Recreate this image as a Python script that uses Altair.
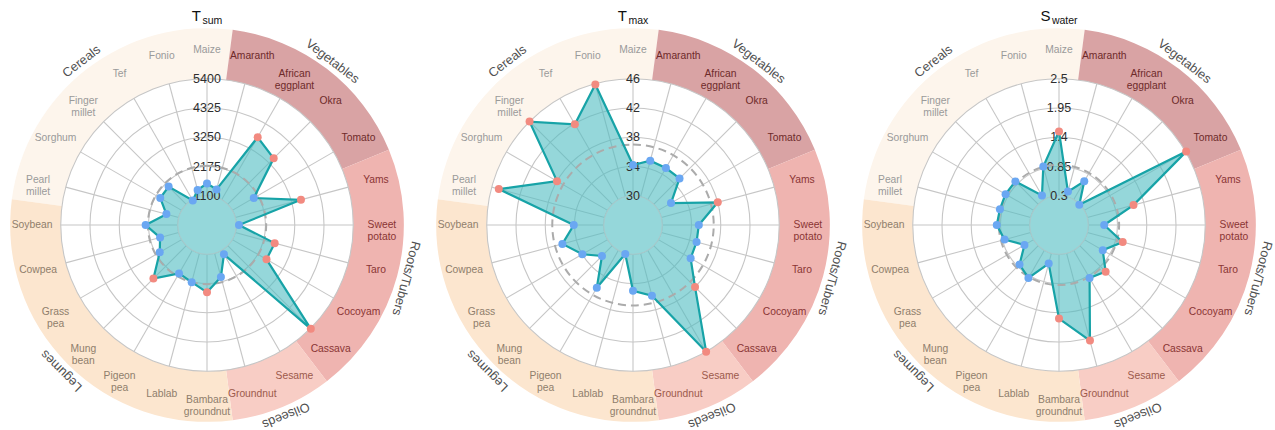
import math
import altair as alt
import pandas as pd

# ---------------- data ----------------
crops = ["Maize", "Amaranth", "African\neggplant", "Okra", "Tomato", "Yams",
         "Sweet\npotato", "Taro", "Cocoyam", "Cassava", "Sesame", "Groundnut",
         "Bambara\ngroundnut", "Lablab", "Pigeon\npea", "Mung\nbean", "Grass\npea",
         "Cowpea", "Soybean", "Pearl\nmillet", "Sorghum", "Finger\nmillet", "Tef", "Fonio"]
crop_category = [0, 1, 1, 1, 1, 2, 2, 2, 2, 2, 3, 3, 4, 4, 4, 4, 4, 4, 4, 0, 0, 0, 0, 0]
categories = ["Cereals", "Vegetables", "Roots/Tubers", "Oilseeds", "Legumes"]
category_first = [19, 1, 5, 10, 12]
category_count = [6, 4, 5, 2, 7]

titles_main = ["T", "T", "S"]
titles_sub = ["sum", "max", "water"]

tsum_ticks = [1100, 2175, 3250, 4325, 5400]
tmax_ticks = [30, 34, 38, 42, 46]
swater_ticks = [0.3, 0.85, 1.4, 1.95, 2.5]

tsum = [1550, 1380, 3750, 3490, 2010, 3600, 1200, 2600, 2550, 5420, 1270, 2000,
        2500, 2200, 2080, 2810, 2030, 1810, 2280, 1570, 2010, 2020, 1070, 1360]
tmax = [34.2, 35.1, 35.0, 35.0, 32.0, 38.0, 35.0, 35.0, 35.1, 38.0, 46.0, 36.0,
        35.0, 30.1, 35.9, 32.0, 34.0, 36.0, 34.1, 45.0, 38.0, 46.0, 41.9, 45.9]
swater = [1.51, 0.40, 0.70, 0.29, 2.51, 1.20, 0.60, 0.99, 0.70, 0.99, 0.90, 2.00,
          1.51, 0.50, 0.90, 0.80, 0.50, 0.81, 0.92, 0.90, 0.91, 0.91, 0.39, 0.89]

tsum_high = [0, 0, 1, 1, 0, 1, 0, 1, 1, 1, 0, 0, 1, 0, 0, 1, 0, 0, 0, 0, 0, 0, 0, 0]
tmax_high = [0, 0, 0, 0, 0, 1, 0, 0, 0, 1, 1, 0, 0, 0, 0, 0, 0, 0, 0, 1, 1, 1, 1, 1]
swater_high = [1, 0, 0, 0, 1, 1, 0, 1, 0, 1, 0, 1, 1, 0, 0, 0, 0, 0, 0, 0, 0, 0, 0, 0]

tsum_ref = 2200
tmax_ref = 37.0
swater_ref = 0.88

panels = [
    (titles_main[0], titles_sub[0], tsum_ticks, tsum, tsum_high, tsum_ref),
    (titles_main[1], titles_sub[1], tmax_ticks, tmax, tmax_high, tmax_ref),
    (titles_main[2], titles_sub[2], swater_ticks, swater, swater_high, swater_ref),
]

# ---------------- styles / layout ----------------
FONT = "Liberation Sans"
band_colors = ["#fdf5ec", "#d9a3a4", "#efb4b0", "#f8cdc5", "#fce6cf"]
label_colors = ["#9a9a9a", "#6e2a2a", "#8a3434", "#9c5a4c", "#8f7e6c"]
CAT_COLOR = "#505050"
GRID = "#c6c6c6"
LINE = "#17a3a7"
FILL = "#4fbcc2"
DISK = "#95d7da"
BLUE = "#6aa7f2"
RED = "#f28a80"

U = 29.25                      # pixels per radial unit
PW, PH, CY = 414, 430, 225     # panel size, centre height
XL = PW / 2 / U
YT = CY / U
YB = -(PH - CY) / U
GRID_R = 5
BAND_R = 6.73
LABEL_R = 5.98
CAT_R = 7.05

xs = alt.Scale(domain=[-XL, XL], nice=False, zero=False)
ys = alt.Scale(domain=[YB, YT], nice=False, zero=False)
rs = alt.Scale(type="linear", domain=[0, 1], range=[0, U], zero=True, nice=False)

N = len(crops)
STEP = 2 * math.pi / N


def XE(f):
    return alt.X(f, type="quantitative", scale=xs, axis=None)


def YE(f):
    return alt.Y(f, type="quantitative", scale=ys, axis=None)


def RE(f):
    return alt.Radius(f, type="quantitative", scale=rs, stack=False)


def make_panel(main, sub, ticks, values, high, ref):
    step = ticks[1] - ticks[0]
    vmin = ticks[0] - step

    def unit(v):
        return (v - vmin) / step

    # background bands
    bands = pd.DataFrame({
        "cat": categories,
        "t0": [(f - 0.5) * STEP for f in category_first],
        "t1": [(f - 0.5 + c) * STEP for f, c in zip(category_first, category_count)],
        "col": band_colors,
    })
    bands["r0"] = GRID_R
    bands["r1"] = BAND_R
    bands["cx"] = 0.0
    bands["cy"] = 0.0
    band_layer = alt.Chart(bands).mark_arc(strokeWidth=0).encode(
        x=XE("cx"), y=YE("cy"),
        theta=alt.Theta("t0:Q", scale=None, stack=False), theta2=alt.Theta2("t1:Q"),
        radius=RE("r1"), radius2=alt.Radius2("r0:Q"),
        color=alt.Color("col:N", scale=None),
    )

    # grid rings
    rings = pd.DataFrame({"tick": ticks})
    rings["r"] = [unit(t) for t in ticks]
    rings["cx"] = 0.0
    rings["cy"] = 0.0
    rings["lab"] = [str(t) for t in ticks]
    ring_layer = alt.Chart(rings).mark_arc(
        theta=0, theta2=2 * math.pi, fillOpacity=0, stroke=GRID, strokeWidth=1.1
    ).encode(x=XE("cx"), y=YE("cy"), radius=RE("r"))

    # spokes
    sp = pd.DataFrame({"idx": list(range(N))})
    sp["th"] = sp["idx"] * STEP
    r_in, r_out = unit(ticks[0]), unit(ticks[-1])
    sp["x1"] = r_in * sp["th"].apply(math.sin)
    sp["y1"] = r_in * sp["th"].apply(math.cos)
    sp["x2"] = r_out * sp["th"].apply(math.sin)
    sp["y2"] = r_out * sp["th"].apply(math.cos)
    spoke_layer = alt.Chart(sp).mark_rule(color=GRID, strokeWidth=1.1).encode(
        x=XE("x1"), y=YE("y1"), x2="x2:Q", y2="y2:Q"
    )

    # tick labels
    tick_layer = alt.Chart(rings).mark_text(
        font=FONT, fontSize=12.5, color="#2e2e2e", align="center", baseline="middle"
    ).encode(x=XE("cx"), y=YE("r"), text="lab:N")

    # data polygon
    df = pd.DataFrame({"crop": crops, "idx": list(range(N)), "value": values, "high": high})
    df["u"] = df["value"].apply(unit)
    df["th"] = df["idx"] * STEP
    df["x"] = df["u"] * df["th"].apply(math.sin)
    df["y"] = df["u"] * df["th"].apply(math.cos)
    df["col"] = [RED if h else BLUE for h in high]
    df["ord"] = df["idx"]
    poly = pd.concat([df, df.iloc[[0]].assign(ord=N)], ignore_index=True)

    fill_layer = alt.Chart(poly).mark_line(
        fill=FILL, fillOpacity=0.6, strokeOpacity=0, strokeWidth=0
    ).encode(x=XE("x"), y=YE("y"), order=alt.Order("ord:Q"))

    disk = pd.DataFrame({"r": [unit(ticks[0])], "cx": [0.0], "cy": [0.0]})
    disk_layer = alt.Chart(disk).mark_arc(
        theta=0, theta2=2 * math.pi, fill=DISK, stroke="#a9c9cb", strokeWidth=1.1
    ).encode(x=XE("cx"), y=YE("cy"), radius=RE("r"))

    refdf = pd.DataFrame({"r": [unit(ref)], "cx": [0.0], "cy": [0.0]})
    ref_layer = alt.Chart(refdf).mark_arc(
        theta=0, theta2=2 * math.pi, fillOpacity=0, stroke="#ababab",
        strokeWidth=2, strokeDash=[8, 5]
    ).encode(x=XE("cx"), y=YE("cy"), radius=RE("r"))

    line_layer = alt.Chart(poly).mark_line(color=LINE, strokeWidth=2.2).encode(
        x=XE("x"), y=YE("y"), order=alt.Order("ord:Q")
    )

    pt_layer = alt.Chart(df).mark_circle(size=64, opacity=1).encode(
        x=XE("x"), y=YE("y"), color=alt.Color("col:N", scale=None)
    )

    # crop labels
    lab = pd.DataFrame({"crop": crops, "idx": list(range(N)), "cat": crop_category})
    lab["th"] = lab["idx"] * STEP
    lab["x"] = LABEL_R * lab["th"].apply(math.sin)
    lab["y"] = LABEL_R * lab["th"].apply(math.cos)
    lab["col"] = [label_colors[c] for c in crop_category]
    lab_layer = alt.Chart(lab).mark_text(
        font=FONT, fontSize=10.3, align="center", baseline="middle", lineBreak="\n",
        lineHeight=12
    ).encode(x=XE("x"), y=YE("y"), text="crop:N", color=alt.Color("col:N", scale=None))

    # category labels
    cat = pd.DataFrame({"cat": categories,
                        "mid": [(f - 0.5 + c / 2) * 360 / N for f, c in zip(category_first, category_count)]})
    cat["x"] = CAT_R * cat["mid"].apply(lambda d: math.sin(math.radians(d)))
    cat["y"] = CAT_R * cat["mid"].apply(lambda d: math.cos(math.radians(d)))
    cat_layer = alt.Chart(cat).mark_text(
        font=FONT, fontSize=12.8, color=CAT_COLOR, align="center", baseline="middle"
    ).encode(x=XE("x"), y=YE("y"), text="cat:N", angle=alt.Angle("mid:Q", scale=None))

    # title: main letter + subscript
    w_main = 15 * (0.667 if main == "S" else 0.611)
    w_sub = 10.5 * {"sum": 1.889, "max": 1.889, "water": 2.445}[sub]
    left = PW / 2 - (w_main + 1.5 + w_sub) / 2
    t1 = alt.Chart(pd.DataFrame({"t": [main]})).mark_text(
        font=FONT, fontSize=15, color="#111111", align="left", baseline="alphabetic"
    ).encode(x=alt.value(left), y=alt.value(20.7), text="t:N")
    t2 = alt.Chart(pd.DataFrame({"t": [sub]})).mark_text(
        font=FONT, fontSize=10.5, color="#111111", align="left", baseline="alphabetic"
    ).encode(x=alt.value(left + w_main + 1.5), y=alt.value(24), text="t:N")

    return alt.layer(
        band_layer, ring_layer, spoke_layer, fill_layer, disk_layer, tick_layer,
        ref_layer, line_layer, pt_layer, lab_layer, cat_layer, t1, t2
    ).properties(width=PW, height=PH)


charts = [make_panel(*p) for p in panels]
chart = alt.hconcat(*charts, spacing=12, bounds="flush").properties(
    padding=0
).configure_view(strokeWidth=0)

chart.save("out.html", embed_options={"renderer": "svg", "actions": False})
